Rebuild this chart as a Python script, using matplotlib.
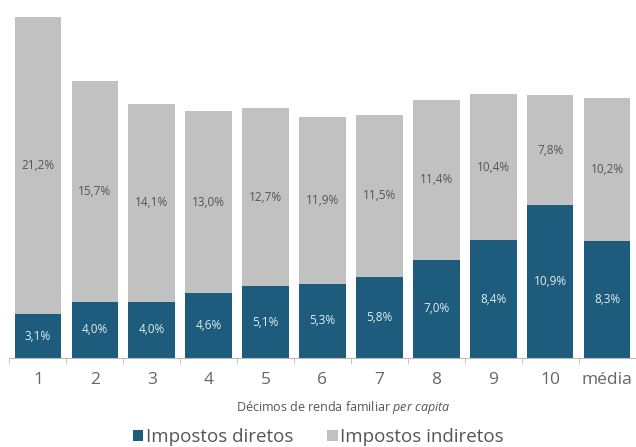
import matplotlib.pyplot as plt
import numpy as np

categories = ['1', '2', '3', '4', '5', '6', '7', '8', '9', '10', 'média']
diretos = [3.1, 4.0, 4.0, 4.6, 5.1, 5.3, 5.8, 7.0, 8.4, 10.9, 8.3]
indiretos = [21.2, 15.7, 14.1, 13.0, 12.7, 11.9, 11.5, 11.4, 10.4, 7.8, 10.2]

c_dir = '#1d5c7c'
c_ind = '#c1c1c1'

plt.rcParams['font.family'] = ['Open Sans', 'DejaVu Sans']
plt.rcParams['mathtext.fontset'] = 'custom'
plt.rcParams['mathtext.rm'] = 'Open Sans'
plt.rcParams['mathtext.it'] = 'Open Sans:italic'

fig = plt.figure(figsize=(6.36, 4.47), dpi=100)
ax = fig.add_axes([9.5 / 636, 89 / 447, 626 / 636, 351 / 447])

x = np.arange(len(categories))
ax.bar(x, diretos, width=0.82, color=c_dir, label='Impostos diretos')
ax.bar(x, indiretos, width=0.82, bottom=diretos, color=c_ind, label='Impostos indiretos')

def fmt(v):
    return f"{v:.1f}%".replace('.', ',')

for xi, d, i in zip(x, diretos, indiretos):
    ax.text(xi, d / 2, fmt(d), ha='center', va='center', fontsize=8.5, color='#e4ecf0')
    ax.text(xi, d + i / 2, fmt(i), ha='center', va='center', fontsize=8.5, color='#555555')

ax.set_xlim(-0.5, len(categories) - 0.5)
ax.set_ylim(0, 25)
ax.set_yticks([])
for s in ['top', 'right', 'left']:
    ax.spines[s].set_visible(False)
ax.spines['bottom'].set_color('#bbbbbb')

ax.set_xticks(x)
ax.set_xticklabels(categories, fontsize=12.5, color='#666666')
ax.tick_params(axis='x', length=0, pad=10)
ax.set_xticks(np.arange(-0.5, len(categories), 1), minor=True)
ax.tick_params(axis='x', which='minor', length=4, color='#bbbbbb')

ax.set_xlabel('Décimos de renda familiar $\\it{per\\ capita}$', fontsize=9, color='#555555', va='center')
ax.xaxis.set_label_coords((343.5 - 9.5) / 626, (358 - 407) / 351)

fig.legend(loc='center', bbox_to_anchor=(318.5 / 636, 1 - 437 / 447), ncol=2, frameon=False,
           fontsize=13.5, handlelength=0.55, handleheight=0.55, handletextpad=0.15,
           columnspacing=1.8, labelcolor='#555555', borderpad=0, borderaxespad=0)

fig.savefig('out.png', dpi=100)
